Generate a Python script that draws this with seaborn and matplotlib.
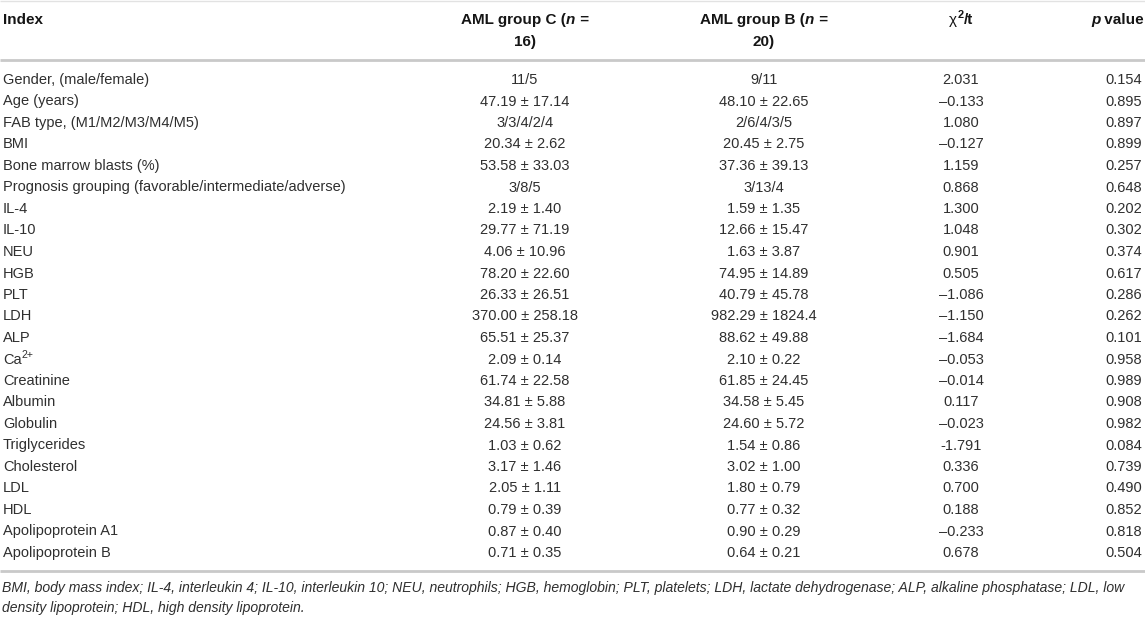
import matplotlib
matplotlib.use("Agg")
import matplotlib.pyplot as plt
import numpy as np
import pandas as pd
import seaborn as sns

# ---------------- data ----------------
index_labels = [
    "Gender, (male/female)", "Age (years)", "FAB type, (M1/M2/M3/M4/M5)", "BMI",
    "Bone marrow blasts (%)", "Prognosis grouping (favorable/intermediate/adverse)",
    "IL-4", "IL-10", "NEU", "HGB", "PLT", "LDH", "ALP", "Ca", "Creatinine",
    "Albumin", "Globulin", "Triglycerides", "Cholesterol", "LDL", "HDL",
    "Apolipoprotein A1", "Apolipoprotein B",
]
index_superscripts = {"Ca": "2+"}
group_c = [
    "11/5", "47.19 ± 17.14", "3/3/4/2/4", "20.34 ± 2.62", "53.58 ± 33.03", "3/8/5",
    "2.19 ± 1.40", "29.77 ± 71.19", "4.06 ± 10.96", "78.20 ± 22.60", "26.33 ± 26.51",
    "370.00 ± 258.18", "65.51 ± 25.37", "2.09 ± 0.14", "61.74 ± 22.58", "34.81 ± 5.88",
    "24.56 ± 3.81", "1.03 ± 0.62", "3.17 ± 1.46", "2.05 ± 1.11", "0.79 ± 0.39",
    "0.87 ± 0.40", "0.71 ± 0.35",
]
group_b = [
    "9/11", "48.10 ± 22.65", "2/6/4/3/5", "20.45 ± 2.75", "37.36 ± 39.13", "3/13/4",
    "1.59 ± 1.35", "12.66 ± 15.47", "1.63 ± 3.87", "74.95 ± 14.89", "40.79 ± 45.78",
    "982.29 ± 1824.4", "88.62 ± 49.88", "2.10 ± 0.22", "61.85 ± 24.45", "34.58 ± 5.45",
    "24.60 ± 5.72", "1.54 ± 0.86", "3.02 ± 1.00", "1.80 ± 0.79", "0.77 ± 0.32",
    "0.90 ± 0.29", "0.64 ± 0.21",
]
chi_t = [
    "2.031", "–0.133", "1.080", "–0.127", "1.159", "0.868", "1.300", "1.048", "0.901",
    "0.505", "–1.086", "–1.150", "–1.684", "–0.053", "–0.014", "0.117", "–0.023",
    "-1.791", "0.336", "0.700", "0.188", "–0.233", "0.678",
]
p_values = [
    "0.154", "0.895", "0.897", "0.899", "0.257", "0.648", "0.202", "0.302", "0.374",
    "0.617", "0.286", "0.262", "0.101", "0.958", "0.989", "0.908", "0.982", "0.084",
    "0.739", "0.490", "0.852", "0.818", "0.504",
]
footnote_lines = [
    "BMI, body mass index; IL-4, interleukin 4; IL-10, interleukin 10; NEU, neutrophils; "
    "HGB, hemoglobin; PLT, platelets; LDH, lactate dehydrogenase; ALP, alkaline phosphatase; LDL, low",
    "density lipoprotein; HDL, high density lipoprotein.",
]

table = pd.DataFrame({"index": index_labels, "c": group_c, "b": group_b,
                      "chi": chi_t, "p": p_values})

# ---------------- style ----------------
sns.set_theme(style="white")
plt.rcParams["font.family"] = ["Liberation Sans", "DejaVu Sans"]

W, H = 1145, 617
fig = plt.figure(figsize=(W / 100, H / 100), dpi=100)
ax = fig.add_axes([0, 0, 1, 1])
ax.set_xlim(0, W)
ax.set_ylim(H, 0)
ax.axis("off")
renderer = fig.canvas.get_renderer()

TXT = "#2f2f2f"
HDR = "#151515"
FS = 10.5
HFS = 11.0
LINE = "#c9c9c9"


def seq_text(x, y, parts, ha="left", va="center"):
    """parts: list of (string, kwargs, dy) drawn one after another."""
    objs = []
    widths = []
    for s, kw, dy in parts:
        t = ax.text(0, y + dy, s, va=va, ha="left", **kw)
        bb = t.get_window_extent(renderer)
        objs.append(t)
        widths.append(bb.width)
    total = sum(widths)
    if ha == "center":
        start = x - total / 2
    elif ha == "right":
        start = x - total
    else:
        start = x
    cur = start
    for t, w in zip(objs, widths):
        t.set_x(cur)
        cur += w
    return objs


# ---------------- rules ----------------
ax.plot([0, W], [1, 1], color="#e2e2e2", lw=1.0, solid_capstyle="butt")
ax.plot([0, W], [60, 60], color=LINE, lw=2.0, solid_capstyle="butt")
ax.plot([0, W], [571, 571], color=LINE, lw=2.0, solid_capstyle="butt")

# ---------------- header ----------------
X_IDX, X_C, X_B, X_CHI, X_P = 3, 525, 764, 961, 1124
hb = dict(fontsize=HFS, fontweight="bold", color=HDR)
hbi = dict(fontsize=HFS, fontweight="bold", fontstyle="italic", color=HDR)
ax.text(X_IDX, 20, "Index", ha="left", va="center", **hb)
seq_text(X_C, 20, [("AML group C (", hb, 0), ("n", hbi, 0), (" =", hb, 0)], ha="center")
ax.text(X_C, 42, "16)", ha="center", va="center", **hb)
seq_text(X_B, 20, [("AML group B (", hb, 0), ("n", hbi, 0), (" =", hb, 0)], ha="center")
ax.text(X_B, 42, "20)", ha="center", va="center", **hb)
seq_text(X_CHI, 20, [("χ", dict(fontsize=HFS, color=HDR), 0),
                     ("2", dict(fontsize=HFS * 0.72, fontweight="bold", color=HDR), -5),
                     ("/t", hb, 0)], ha="center")
seq_text(1144, 20, [("p", hbi, 0), (" value", hb, 0)], ha="right")

# ---------------- rows ----------------
Y0, DY = 80, 21.5
tk = dict(fontsize=FS, color=TXT)
for i, row in table.iterrows():
    y = Y0 + i * DY
    lab = row["index"]
    if lab in index_superscripts:
        seq_text(X_IDX, y, [(lab, tk, 0),
                            (index_superscripts[lab], dict(fontsize=FS * 0.72, color=TXT), -5)])
    else:
        ax.text(X_IDX, y, lab, ha="left", va="center", **tk)
    ax.text(X_C, y, row["c"], ha="center", va="center", **tk)
    ax.text(X_B, y, row["b"], ha="center", va="center", **tk)
    ax.text(X_CHI, y, row["chi"], ha="center", va="center", **tk)
    ax.text(X_P, y, row["p"], ha="center", va="center", **tk)

# ---------------- footnote ----------------
fn = dict(fontsize=9.6, fontstyle="italic", color=TXT)
probe = ax.text(0, 0, footnote_lines[0], **fn)
w0 = probe.get_window_extent(renderer).width
probe.remove()
fn["fontsize"] = 9.6 * 1133 / w0
ax.text(2, 588, footnote_lines[0], ha="left", va="center", **fn)
ax.text(2, 608, footnote_lines[1], ha="left", va="center", **fn)

fig.savefig("out.png", dpi=100)
